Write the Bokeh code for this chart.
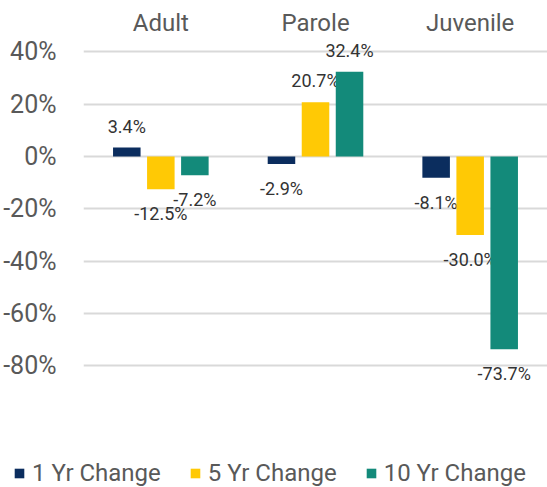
from bokeh.plotting import figure
from bokeh.layouts import column, row
from bokeh.models import ColumnDataSource, FixedTicker, PrintfTickFormatter, Spacer
from bokeh.transform import dodge
from bokeh.embed import file_html
from bokeh.resources import INLINE
from bokeh.core.properties import value

# ---- data ----
categories = ["Adult", "Parole", "Juvenile"]
yr1_change = [3.4, -2.9, -8.1]
yr5_change = [-12.5, 20.7, -30.0]
yr10_change = [-7.2, 32.4, -73.7]
series_names = ["1 Yr Change", "5 Yr Change", "10 Yr Change"]
y_ticks = [-80, -60, -40, -20, 0, 20, 40]

colors = ["#0b2d5e", "#ffc905", "#138a7a"]
offsets = [-0.22, 0.0, 0.22]
FONT = "Roboto"

chart = figure(
    x_range=categories, y_range=(-107.8, 45.1),
    frame_width=464, frame_height=400,
    min_border_left=75, min_border_right=0, min_border_top=0, min_border_bottom=0,
    x_axis_location="above",
    output_backend="svg", toolbar_location=None,
)

series = [yr1_change, yr5_change, yr10_change]
for name, vals, col, off in zip(series_names, series, colors, offsets):
    src = ColumnDataSource(dict(cat=categories, v=vals))
    xd = dodge("cat", off, range=chart.x_range)
    chart.vbar(x=xd, top="v", bottom=0, width=0.178, source=src,
               fill_color=col, line_color=None)
    pos = ColumnDataSource(dict(cat=[c for c, x in zip(categories, vals) if x >= 0],
                                v=[x for x in vals if x >= 0],
                                lab=[f"{x:.1f}%" for x in vals if x >= 0]))
    neg = ColumnDataSource(dict(cat=[c for c, x in zip(categories, vals) if x < 0],
                                v=[x for x in vals if x < 0],
                                lab=[f"{x:.1f}%" for x in vals if x < 0]))
    chart.text(x=xd, y="v", text="lab", source=pos, text_align="center",
               text_baseline="bottom", y_offset=-11, text_font=value(FONT),
               text_font_size="18px", text_color="#333333")
    chart.text(x=xd, y="v", text="lab", source=neg, text_align="center",
               text_baseline="top", y_offset=14, text_font=value(FONT),
               text_font_size="18px", text_color="#333333")

# axes
chart.yaxis.ticker = FixedTicker(ticks=y_ticks)
chart.yaxis.formatter = PrintfTickFormatter(format="%d%%")
chart.yaxis.axis_line_color = None
chart.yaxis.major_tick_line_color = None
chart.yaxis.minor_tick_line_color = None
chart.yaxis.major_tick_out = 0
chart.yaxis.minor_tick_out = 0
chart.yaxis.major_label_standoff = 27
chart.yaxis.major_label_text_font = FONT
chart.yaxis.major_label_text_font_size = "25px"
chart.yaxis.major_label_text_color = "#595959"

chart.xaxis.axis_line_color = None
chart.xaxis.major_tick_line_color = None
chart.xaxis.minor_tick_line_color = None
chart.xaxis.major_tick_out = 0
chart.xaxis.minor_tick_out = 0
chart.xaxis.major_label_standoff = 2
chart.xaxis.major_label_text_font = FONT
chart.xaxis.major_label_text_font_size = "24px"
chart.xaxis.major_label_text_color = "#595959"

chart.xgrid.grid_line_color = None
chart.ygrid.ticker = FixedTicker(ticks=y_ticks)
chart.ygrid.grid_line_color = "#d9d9d9"
chart.ygrid.grid_line_width = 2
chart.outline_line_color = None

# ---- legend strip below the chart (its bars lie outside its view) ----
leg = figure(width=539, height=49, x_range=categories, y_range=(200, 201),
             x_axis_type=None, y_axis_type=None,
             min_border_left=0, min_border_right=0, min_border_top=0, min_border_bottom=0,
             output_backend="svg", toolbar_location=None)
for name, vals, col in zip(series_names, series, colors):
    leg.vbar(x=categories, top=vals, bottom=0, width=0.1, fill_color=col,
             line_color=None, legend_label=name)
leg.grid.visible = False
leg.outline_line_color = None

lg = leg.legend[0]
lg.orientation = "horizontal"
lg.location = (13, 0)
lg.padding = 0
lg.margin = 0
lg.spacing = 28
lg.glyph_width = 12
lg.glyph_height = 12
lg.label_standoff = 7
lg.label_height = 24
lg.label_text_font = FONT
lg.label_text_font_size = "24px"
lg.label_text_color = "#595959"
lg.border_line_color = None
lg.background_fill_alpha = 0

p = column(Spacer(width=539, height=5), chart, row(leg), spacing=0)

open("out.html", "w").write(file_html(p, INLINE))
